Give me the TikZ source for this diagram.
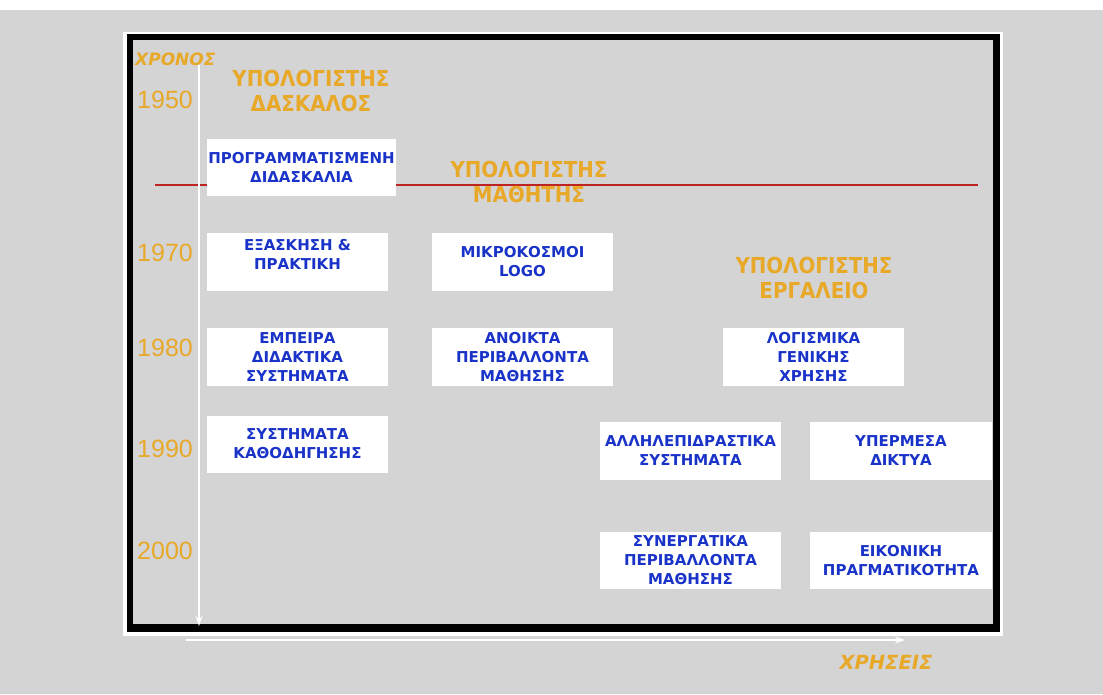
\documentclass[tikz,border=0pt]{standalone}
\usepackage{fontspec}
\setmainfont{DejaVu Sans}
\newfontfamily\yearfont{Liberation Sans}
\newfontfamily\headfont[FakeStretch=0.9]{DejaVu Sans Bold}
\usetikzlibrary{arrows.meta}
\definecolor{bg}{RGB}{212,212,212}
\definecolor{org}{RGB}{232,168,40}
\definecolor{blu}{RGB}{25,50,200}
\definecolor{redl}{RGB}{190,35,35}
\begin{document}
\begin{tikzpicture}[x=1pt,y=-1pt,
  box/.style={fill=white, draw=none, align=center, text=blu, inner sep=0pt,
    font=\bfseries\fontsize{15}{19}\selectfont, minimum width=181, minimum height=58},
  year/.style={anchor=west, text=org, inner sep=0pt, font=\yearfont\fontsize{25}{28}\selectfont},
  head/.style={align=center, text=org, inner sep=0pt, font=\headfont\fontsize{22}{24.5}\selectfont},
  axislbl/.style={text=org, inner sep=0pt, font=\bfseries\itshape},
  axis/.style={white, line width=2.2pt, -{Stealth[length=10pt,width=7pt]}}]
\useasboundingbox (0,0) rectangle (1103,694);
\fill[white] (0,0) rectangle (1103,10);
\fill[bg] (0,10) rectangle (1103,694);
\fill[white] (123,32) rectangle (1003,636);
\fill[black] (127,34) rectangle (1000,632);
\fill[bg] (133,40) rectangle (993,624);
% red line
\coordinate (rl) at (155,185);
\coordinate (rr) at (978,185);
\draw[redl, line width=1.1pt] (rl) -- (rr);
% axes
\coordinate (vt) at (199,65);
\coordinate (vb) at (199,626);
\draw[axis] (vt) -- (vb);
\coordinate (hl) at (186,640);
\coordinate (hr) at (905,640);
\draw[axis, line width=1.8pt] (hl) -- (hr);
\node[axislbl, anchor=west, font=\bfseries\itshape\fontsize{17}{20}\selectfont] (xronos) at (135,59) {ΧΡΟΝΟΣ};
\node[axislbl, font=\bfseries\itshape\fontsize{19.5}{22}\selectfont] (xriseis) at (886,662) {ΧΡΗΣΕΙΣ};
% years
\node[year] (y50) at (137,100) {1950};
\node[year] (y70) at (137,253) {1970};
\node[year] (y80) at (137,348) {1980};
\node[year] (y90) at (137,449) {1990};
\node[year] (y00) at (137,551) {2000};
% headings
\node[head] (h1) at (311,91) {ΥΠΟΛΟΓΙΣΤΗΣ\\ΔΑΣΚΑΛΟΣ};
\node[head] (h2) at (529,182) {ΥΠΟΛΟΓΙΣΤΗΣ\\ΜΑΘΗΤΗΣ};
\node[head] (h3) at (814,278) {ΥΠΟΛΟΓΙΣΤΗΣ\\ΕΡΓΑΛΕΙΟ};
% boxes
\node[box, minimum width=189, minimum height=57] (b1) at (301.5,167.5) {ΠΡΟΓΡΑΜΜΑΤΙΣΜΕΝΗ\\ΔΙΔΑΣΚΑΛΙΑ};
\node[box] (b2) at (297.5,262) {};
\node[text=blu, align=center, inner sep=0pt, font=\bfseries\fontsize{15}{19}\selectfont] (t2) at (297.5,254) {ΕΞΑΣΚΗΣΗ \&\\ΠΡΑΚΤΙΚΗ};
\node[box] (b3) at (297.5,357) {ΕΜΠΕΙΡΑ\\ΔΙΔΑΚΤΙΚΑ\\ΣΥΣΤΗΜΑΤΑ};
\node[box, minimum height=57] (b4) at (297.5,444) {ΣΥΣΤΗΜΑΤΑ\\ΚΑΘΟΔΗΓΗΣΗΣ};
\node[box] (b5) at (522.5,262) {ΜΙΚΡΟΚΟΣΜΟΙ\\LOGO};
\node[box] (b6) at (522.5,357) {ΑΝΟΙΚΤΑ\\ΠΕΡΙΒΑΛΛΟΝΤΑ\\ΜΑΘΗΣΗΣ};
\node[box] (b7) at (813.5,357) {ΛΟΓΙΣΜΙΚΑ\\ΓΕΝΙΚΗΣ\\ΧΡΗΣΗΣ};
\node[box] (b8) at (690.5,451) {ΑΛΛΗΛΕΠΙΔΡΑΣΤΙΚΑ\\ΣΥΣΤΗΜΑΤΑ};
\node[box, minimum width=182] (b9) at (901,451) {ΥΠΕΡΜΕΣΑ\\ΔΙΚΤΥΑ};
\node[box, minimum height=57] (b10) at (690.5,560.5) {ΣΥΝΕΡΓΑΤΙΚΑ\\ΠΕΡΙΒΑΛΛΟΝΤΑ\\ΜΑΘΗΣΗΣ};
\node[box, minimum width=182, minimum height=57] (b11) at (901,560.5) {ΕΙΚΟΝΙΚΗ\\ΠΡΑΓΜΑΤΙΚΟΤΗΤΑ};
\end{tikzpicture}
\end{document}
